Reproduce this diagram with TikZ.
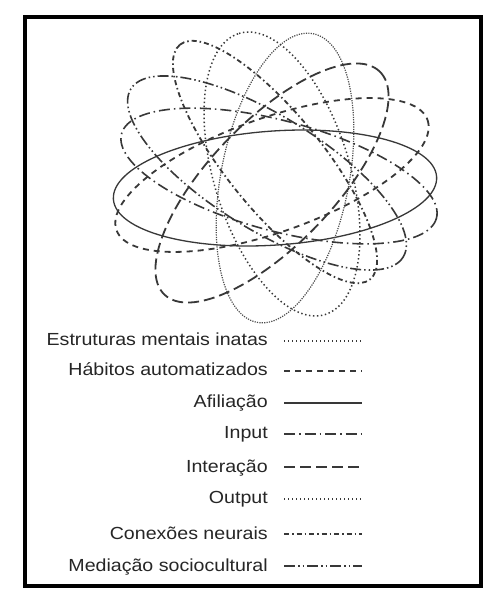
\documentclass[tikz,border=0pt]{standalone}
\usepackage{fontspec}
\newfontfamily\legfont{Liberation Sans}[FakeStretch=1.12]
\begin{document}
\begin{tikzpicture}[x=1pt,y=-1pt,
  lin/.style={draw=black!78,line cap=butt},
  estr/.style={lin,draw=black!70,line width=1.2pt,dash pattern=on 1.2pt off 1.2pt},
  outp/.style={lin,line width=1.5pt,dash pattern=on 1.4pt off 2.6pt},
  habi/.style={lin,line width=1.8pt,dash pattern=on 6pt off 5pt},
  afil/.style={lin,line width=1.3pt},
  inpt/.style={lin,line width=1.6pt,dash pattern=on 11pt off 4pt on 1.5pt off 4pt},
  inter/.style={lin,line width=1.8pt,dash pattern=on 11pt off 5pt},
  conx/.style={lin,line width=1.8pt,dash pattern=on 5pt off 3pt on 1.5pt off 3pt},
  medi/.style={lin,line width=1.6pt,dash pattern=on 11pt off 3pt on 1.5pt off 3pt on 1.5pt off 3pt},
  lab/.style={anchor=base east,inner sep=0pt,text=black!85,font=\legfont\fontsize{17.5}{20}\selectfont}]
\fill[white] (0,0) rectangle (492,592);
\useasboundingbox (0,0) rectangle (492,592);
\draw[line width=3.5pt] (25,17) rectangle (481,586);
% ellipses
\draw[afil,rotate around={4:(275,188)}] (275,188) ellipse [x radius=162,y radius=57];
\draw[estr,rotate around={79:(285,178)}] (285,178) ellipse [x radius=147,y radius=64];
\draw[outp,rotate around={107:(282,174)}] (282,174) ellipse [x radius=147,y radius=68];
\draw[medi,rotate around={-31.7:(267,173)}] (267,173) ellipse [x radius=160,y radius=57];
\draw[inpt,rotate around={-15:(279,176)}] (279,176) ellipse [x radius=163,y radius=55];
\draw[habi,rotate around={19.5:(272,175)}] (272,175) ellipse [x radius=165,y radius=57];
\draw[inter,rotate around={46:(272,183)}] (272,183) ellipse [x radius=155,y radius=62];
\draw[conx,rotate around={129:(275,162)}] (275,162) ellipse [x radius=151,y radius=48];
% legend
\node[lab] (l1) at (268,345) {Estruturas mentais inatas};
\node[lab] (l2) at (268,375) {Hábitos automatizados};
\node[lab] (l3) at (268,407) {Afiliação};
\node[lab] (l4) at (268,438) {Input};
\node[lab] (l5) at (268,472) {Interação};
\node[lab] (l6) at (268,503) {Output};
\node[lab] (l7) at (268,539) {Conexões neurais};
\node[lab] (l8) at (268,571) {Mediação sociocultural};
\coordinate (a1) at (284,341); \coordinate (b1) at (362,341);
\coordinate (a2) at (284,371); \coordinate (b2) at (362,371);
\coordinate (a3) at (284,403); \coordinate (b3) at (362,403);
\coordinate (a4) at (284,434); \coordinate (b4) at (362,434);
\coordinate (a5) at (284,467); \coordinate (b5) at (362,467);
\coordinate (a6) at (284,499); \coordinate (b6) at (362,499);
\coordinate (a7) at (284,534); \coordinate (b7) at (362,534);
\coordinate (a8) at (284,566); \coordinate (b8) at (362,566);
\draw[outp] (a1) -- (b1);
\draw[habi] (a2) -- (b2);
\draw[afil] (a3) -- (b3);
\draw[inpt] (a4) -- (b4);
\draw[inter] (a5) -- (b5);
\draw[outp] (a6) -- (b6);
\draw[conx] (a7) -- (b7);
\draw[medi] (a8) -- (b8);
\end{tikzpicture}
\end{document}
